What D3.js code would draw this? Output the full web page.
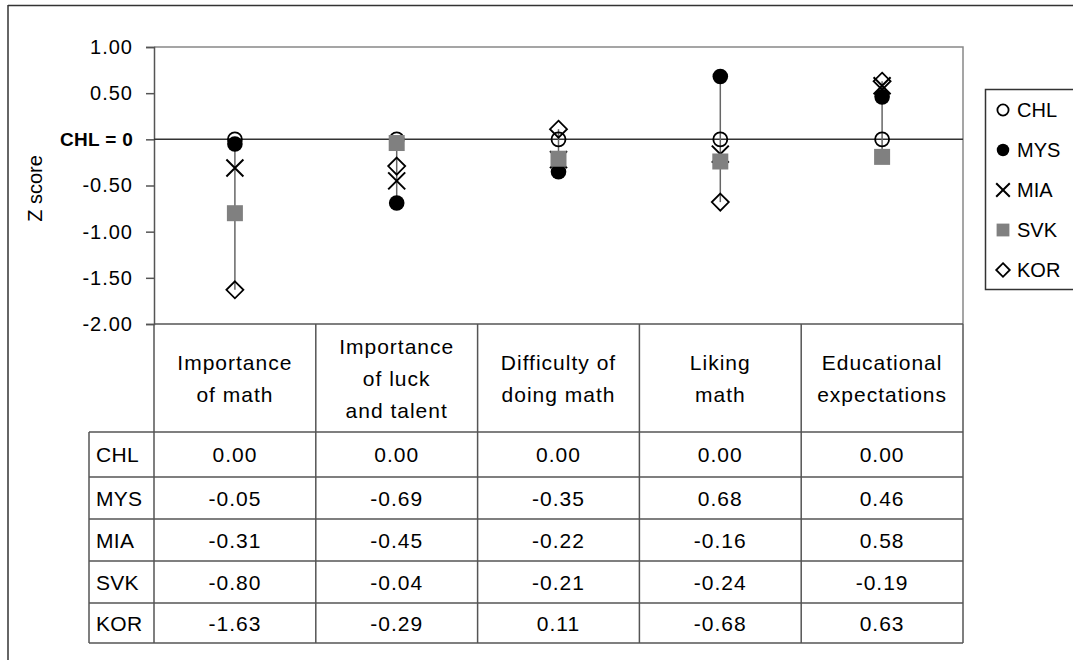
<!DOCTYPE html>
<html>
<head>
<meta charset="utf-8">
<script src="https://cdn.jsdelivr.net/npm/d3@7"></script>
<style>
  html, body { margin: 0; padding: 0; background: #fff; }
  svg { display: block; }
  text { font-family: "Liberation Sans", Arial, sans-serif; fill: #000; }
</style>
</head>
<body>
<svg id="chart" width="1073" height="660"></svg>
<script>
// ---------- data ----------
const categories = ["Importance of math", "Importance of luck and talent", "Difficulty of doing math", "Liking math", "Educational expectations"];
const categoryLines = [["Importance", "of math"], ["Importance", "of luck", "and talent"], ["Difficulty of", "doing math"], ["Liking", "math"], ["Educational", "expectations"]];
const seriesNames = ["CHL", "MYS", "MIA", "SVK", "KOR"];
const CHL = [0.00, 0.00, 0.00, 0.00, 0.00];
const MYS = [-0.05, -0.69, -0.35, 0.68, 0.46];
const MIA = [-0.31, -0.45, -0.22, -0.16, 0.58];
const SVK = [-0.80, -0.04, -0.21, -0.24, -0.19];
const KOR = [-1.63, -0.29, 0.11, -0.68, 0.63];
const yTicks = [1.0, 0.5, 0, -0.5, -1.0, -1.5, -2.0];
const yDomain = [-2, 1];

const seriesValues = [CHL, MYS, MIA, SVK, KOR];
const seriesMarker = ["circleOpen", "circleFilled", "cross", "square", "diamond"];

// ---------- layout ----------
const svg = d3.select("#chart");
const plotL = 154, plotR = 963, plotT = 47, plotB = 324;
const FONT = 21;
const LS = "1px";

const x = d3.scaleBand().domain(categories).range([plotL, plotR]).paddingInner(0).paddingOuter(0);
const y = d3.scaleLinear().domain(yDomain).range([plotB, plotT]);

const fmt = v => (v < 0 ? "-" : "") + Math.abs(v).toFixed(2);

// outer frame (top & left visible)
svg.append("line").attr("x1", 8).attr("x2", 1073).attr("y1", 5.5).attr("y2", 5.5).attr("stroke", "#333").attr("stroke-width", 1.5);
svg.append("line").attr("x1", 8).attr("x2", 8).attr("y1", 5).attr("y2", 660).attr("stroke", "#333").attr("stroke-width", 1.5);

// plot area border (top/right)
svg.append("path")
  .attr("d", `M${plotL},${plotT}H${plotR}V${plotB}`)
  .attr("fill", "none").attr("stroke", "#888").attr("stroke-width", 1.5);

// y axis
const yAxis = d3.axisLeft(y).tickValues(yTicks).tickSize(8).tickPadding(13)
  .tickFormat(d => d === 0 ? "CHL = 0" : fmt(d));
const gy = svg.append("g").attr("transform", `translate(${plotL},0)`).call(yAxis);
gy.select(".domain").attr("stroke", "#555").attr("stroke-width", 1.5);
gy.selectAll(".tick line").attr("stroke", "#555").attr("stroke-width", 1.5);
gy.selectAll(".tick text")
  .attr("font-family", "Liberation Sans, Arial, sans-serif")
  .attr("fill", "#000")
  .attr("font-weight", d => d === 0 ? "bold" : "normal")
  .attr("font-size", d => d === 0 ? 19 : 20)
  .attr("letter-spacing", d => d === 0 ? "0.3px" : LS);

// zero line
svg.append("line").attr("x1", plotL).attr("x2", plotR).attr("y1", y(0)).attr("y2", y(0))
  .attr("stroke", "#333").attr("stroke-width", 1.5);

// y title
svg.append("text").attr("transform", `translate(42,${(plotT + plotB) / 2 + 3}) rotate(-90)`)
  .attr("text-anchor", "middle").attr("font-size", 20).text("Z score");

// high-low lines
categories.forEach((c, i) => {
  const vals = seriesValues.map(s => s[i]);
  svg.append("line")
    .attr("x1", x(c) + x.bandwidth() / 2).attr("x2", x(c) + x.bandwidth() / 2)
    .attr("y1", y(d3.max(vals))).attr("y2", y(d3.min(vals)))
    .attr("stroke", "#666").attr("stroke-width", 1.5);
});

// marker drawing
function drawMarker(g, type, cx, cy, s) {
  if (type === "circleOpen") {
    g.append("circle").attr("cx", cx).attr("cy", cy).attr("r", 7 * s).attr("fill", "none").attr("stroke", "#000").attr("stroke-width", 1.8);
  } else if (type === "circleFilled") {
    g.append("circle").attr("cx", cx).attr("cy", cy).attr("r", 7.8 * s).attr("fill", "#000");
  } else if (type === "cross") {
    const h = 8.5 * s;
    g.append("path").attr("d", `M${cx - h},${cy - h}L${cx + h},${cy + h}M${cx - h},${cy + h}L${cx + h},${cy - h}`)
      .attr("stroke", "#000").attr("stroke-width", 2).attr("fill", "none");
  } else if (type === "square") {
    const h = 8 * s;
    g.append("rect").attr("x", cx - h).attr("y", cy - h).attr("width", 2 * h).attr("height", 2 * h).attr("fill", "#808080");
  } else if (type === "diamond") {
    const h = 8.5 * s;
    g.append("path").attr("d", `M${cx},${cy - h}L${cx + h},${cy}L${cx},${cy + h}L${cx - h},${cy}Z`)
      .attr("stroke", "#000").attr("stroke-width", 1.8).attr("fill", "none");
  }
}

const gm = svg.append("g");
seriesValues.forEach((vals, si) => {
  vals.forEach((v, i) => {
    drawMarker(gm, seriesMarker[si], x(categories[i]) + x.bandwidth() / 2, y(v), 1);
  });
});

// ---------- data table ----------
const headT = plotB, headB = 432;
const rowBounds = [432, 477, 519, 561, 603, 643];
const labelL = 89;
const tableStroke = "#555";
const tg = svg.append("g");

tg.append("line").attr("x1", plotL).attr("x2", plotR).attr("y1", headT).attr("y2", headT).attr("stroke", tableStroke).attr("stroke-width", 1.5);
const colEdges = categories.map(c => x(c)).concat([plotR]);
colEdges.forEach(xe => {
  tg.append("line").attr("x1", xe).attr("x2", xe).attr("y1", headT).attr("y2", rowBounds[rowBounds.length - 1])
    .attr("stroke", tableStroke).attr("stroke-width", 1.5);
});
rowBounds.forEach(yb => {
  tg.append("line").attr("x1", labelL).attr("x2", plotR).attr("y1", yb).attr("y2", yb)
    .attr("stroke", tableStroke).attr("stroke-width", 1.5);
});
tg.append("line").attr("x1", labelL).attr("x2", labelL).attr("y1", rowBounds[0]).attr("y2", rowBounds[rowBounds.length - 1])
  .attr("stroke", tableStroke).attr("stroke-width", 1.5);

// header text
const lineH = 32;
categories.forEach((c, i) => {
  const lines = categoryLines[i];
  const cx = x(c) + x.bandwidth() / 2;
  const mid = (headT + headB) / 2;
  const t = tg.append("text").attr("text-anchor", "middle").attr("font-size", FONT).attr("letter-spacing", LS);
  lines.forEach((ln, k) => {
    t.append("tspan").attr("x", cx)
      .attr("y", mid + (k - (lines.length - 1) / 2) * lineH)
      .attr("dy", "0.36em").text(ln);
  });
});

// data rows
seriesNames.forEach((name, r) => {
  const cy = (rowBounds[r] + rowBounds[r + 1]) / 2;
  tg.append("text").attr("x", 96).attr("y", cy).attr("dy", "0.36em")
    .attr("font-size", FONT).attr("letter-spacing", "0.3px").text(name);
  seriesValues[r].forEach((v, i) => {
    tg.append("text").attr("x", x(categories[i]) + x.bandwidth() / 2).attr("y", cy).attr("dy", "0.36em")
      .attr("text-anchor", "middle").attr("font-size", FONT).attr("letter-spacing", LS).text(fmt(v));
  });
});

// ---------- legend ----------
const lg = svg.append("g");
lg.append("rect").attr("x", 985.5).attr("y", 89.5).attr("width", 120).attr("height", 200)
  .attr("fill", "#fff").attr("stroke", "#333").attr("stroke-width", 1.5);
seriesNames.forEach((name, i) => {
  const cy = 110 + i * 40;
  drawMarker(lg, seriesMarker[i], 1003, cy, 0.8);
  lg.append("text").attr("x", 1017).attr("y", cy).attr("dy", "0.36em").attr("font-size", 20).text(name);
});
</script>
</body>
</html>
